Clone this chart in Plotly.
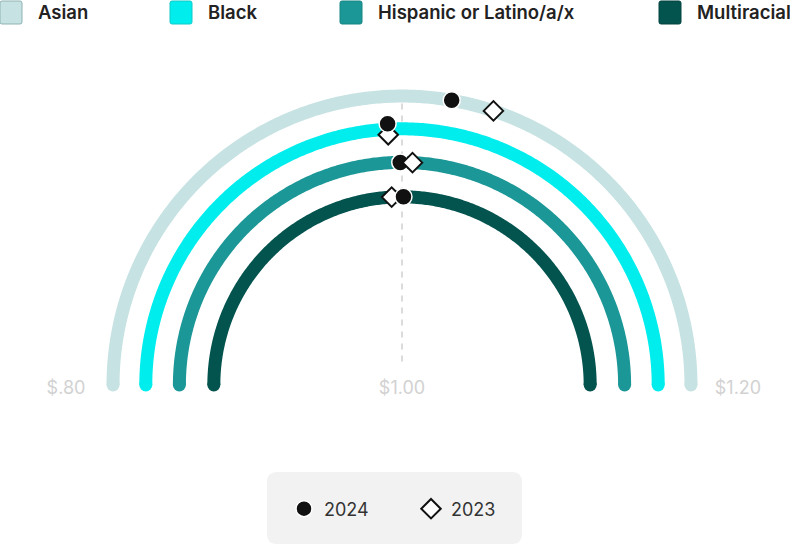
import numpy as np
import plotly.graph_objects as go

# Data
categories = ['Asian', 'Black', 'Hispanic or Latino/a/x', 'Multiracial']
colors = ['#c6e2e2', '#00eded', '#1a9796', '#03534e']
borders = ['#8fb3b2', '#12c9c9', '#178684', '#02443f']
values_2024 = [1.022, 0.993, 0.999, 1.001]
values_2023 = [1.041, 0.993, 1.006, 0.993]
tick_vals = [0.80, 1.00, 1.20]
tick_text = ['$.80', '$1.00', '$1.20']

# Geometry (value units, 1680 px per unit)
scale_min, scale_max = 0.80, 1.20
center = 1.00
radii = [0.172, 0.1525, 0.1325, 0.112]
band_width = 13
nudge = 0.0033
px = 1680.0
font = 'Inter'


def angle(v):
    return np.pi * (1 - (v - scale_min) / (scale_max - scale_min))


def on_arc(v, r):
    a = angle(v)
    return center + r * np.cos(a), r * np.sin(a)


fig = go.Figure()

theta = np.linspace(np.pi, 0, 361)
for i, cat in enumerate(categories):
    r = radii[i]
    fig.add_trace(go.Scatter(
        x=center + r * np.cos(theta), y=r * np.sin(theta),
        mode='lines', line=dict(color=colors[i], width=band_width, simplify=False),
        hoverinfo='skip', showlegend=False
    ))
    # round caps at both ends
    fig.add_trace(go.Scatter(
        x=[center - r, center + r], y=[0, 0], mode='markers',
        marker=dict(size=band_width, color=colors[i], line=dict(width=0)),
        hoverinfo='skip', showlegend=False
    ))

    v24, v23 = values_2024[i], values_2023[i]
    r24, r23 = r, r
    if abs(v24 - v23) < 0.003:
        # overlapping points get pushed apart radially
        r24, r23 = r + nudge, r - nudge

    pts = [
        (v23, r23, '2023', dict(symbol='diamond', size=15, color='white',
                                line=dict(color='#111111', width=2)), 2),
        (v24, r24, '2024', dict(symbol='circle', size=17, color='#111111',
                                line=dict(color='white', width=1.5)), 1),
    ]
    # higher value drawn on top, ties keep the dot on top
    pts.sort(key=lambda p: p[0])
    for v, rr, name, mk, rank in pts:
        x, y = on_arc(v, rr)
        fig.add_trace(go.Scatter(
            x=[x], y=[y], mode='markers', marker=mk, name=name,
            legendgroup=name, legendrank=rank, showlegend=(i == 0),
            hovertemplate=f'{cat}<br>{name}: ${v:.3f}<extra></extra>'
        ))

# vertical dashed reference at $1.00
fig.add_shape(type='line', x0=center, x1=center, y0=0.014, y1=radii[0] + 0.004,
              line=dict(color='#cfcfcf', width=1.5, dash='6px,6px'), layer='below')


def rounded_rect(x0, x1, y0, y1, rad):
    # paper coords, rad in px
    rx, ry = rad / 790, rad / 546
    return (f'M {x0 + rx},{y0} L {x1 - rx},{y0} Q {x1},{y0} {x1},{y0 + ry} '
            f'L {x1},{y1 - ry} Q {x1},{y1} {x1 - rx},{y1} '
            f'L {x0 + rx},{y1} Q {x0},{y1} {x0},{y1 - ry} '
            f'L {x0},{y0 + ry} Q {x0},{y0} {x0 + rx},{y0} Z')


# top legend (category swatches)
swatch_x = [0, 170, 340, 659]
for i, cat in enumerate(categories):
    x0 = swatch_x[i]
    fig.add_shape(type='path', xref='paper', yref='paper',
                  path=rounded_rect(x0 / 790, (x0 + 22) / 790, 1 - 24 / 546, 1 - 1 / 546, 2),
                  fillcolor=colors[i], line=dict(color=borders[i], width=1))
    fig.add_annotation(xref='paper', yref='paper', x=(x0 + 36) / 790, y=1 - 12 / 546,
                       text=cat, showarrow=False, xanchor='left', yanchor='middle',
                       font=dict(family=font, size=18.5, color='#222222', weight=600))

# rounded box behind the year legend
fig.add_shape(type='path', xref='paper', yref='paper',
              path=rounded_rect(267 / 790, 522 / 790, 1 - 544 / 546, 1 - 472 / 546, 10),
              fillcolor='#f2f2f2', line=dict(width=0), layer='below')

x_lo = center - 402 / px
y_lo = -161 / px
fig.update_layout(
    width=790, height=546,
    margin=dict(l=0, r=0, t=0, b=0),
    paper_bgcolor='white', plot_bgcolor='white',
    font=dict(family=font, size=18, color='#333333'),
    xaxis=dict(range=[x_lo, x_lo + 790 / px], tickvals=tick_vals, ticktext=tick_text,
               showgrid=False, zeroline=False, showline=False, ticks='',
               anchor='free', position=(546 - 375) / 546,
               tickfont=dict(family=font, size=18, color='#d2d2d2'), fixedrange=True),
    yaxis=dict(range=[y_lo, y_lo + 546 / px], visible=False, fixedrange=True),
    legend=dict(orientation='h', x=284 / 790, xanchor='left', y=1 - 509 / 546, yanchor='middle',
                bgcolor='rgba(0,0,0,0)', entrywidth=82, font=dict(size=18, color='#333333'),
                itemclick=False, itemdoubleclick=False),
    showlegend=True,
)

fig.write_html('out.html', config={'displayModeBar': False},
               post_script="document.body.style.margin='0';document.body.style.overflow='hidden';")
